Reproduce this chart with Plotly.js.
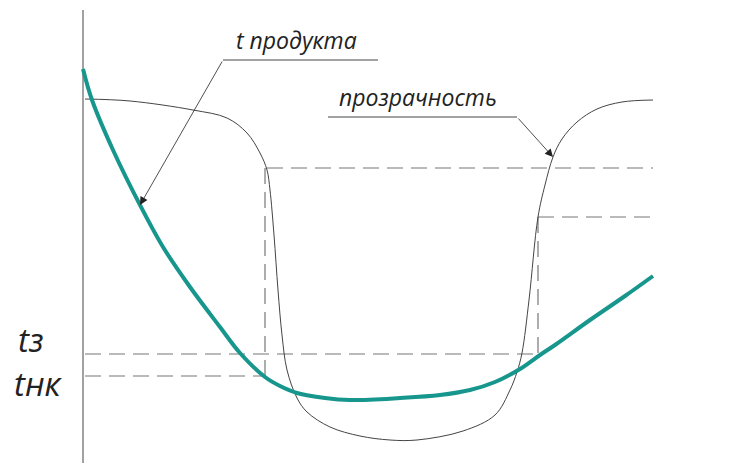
<!DOCTYPE html>
<html>
<head>
<meta charset="utf-8">
<script src="https://cdn.plot.ly/plotly-3.0.1.min.js"></script>
<style>
  html, body { margin: 0; padding: 0; background: #fff; }
  #chart { width: 755px; height: 463px; }
</style>
</head>
<body>
<div id="chart"></div>
<script>
// drawing units: x to the right, y downward (schematic, no scale)
var productX = [83, 92, 113, 140, 163, 190, 220, 240, 265, 280, 297, 325, 350, 400, 440, 470, 495, 520, 540, 555, 590, 625, 653];
var productY = [69, 100, 150, 205, 247, 287, 327, 353, 377, 386, 393, 398, 400, 398, 395, 390, 382, 369, 355, 345, 320, 296, 276];

var clearX = [85, 130, 193, 227, 247, 260, 267, 270, 274, 278, 282, 287, 297, 307, 330, 360, 390, 417, 463, 495, 510, 517, 522, 529, 538, 545, 553, 562, 577, 597, 622, 653];
var clearY = [99, 101, 110, 118, 133, 153, 170, 190, 235, 290, 335, 370, 398, 412, 427, 436, 440, 440, 431, 415, 390, 372, 353, 300, 217, 185, 157, 139, 122, 109, 102, 100];

var dashX = [85, 538, null, 85, 265, null, 265, 265, null, 267, 653, null, 538, 538, null, 538, 653];
var dashY = [354, 354, null, 376, 376, null, 168, 376, null, 168, 168, null, 217, 354, null, 217, 217];

var axisX = [83, 83];
var axisY = [10, 463];

var leaderX = [223, 378, null, 328, 517];
var leaderY = [60, 60, null, 117, 117];

var labels = ['t продукта', 'прозрачность', 'tз', 'tнк'];
var labelX = [296, 418, 30, 38];
var labelY = [40, 97, 339, 383];
var labelSize = [23, 23, 33, 33];

var arrowTail = [[223, 60], [517, 117]];
var arrowHead = [[140, 205], [553, 157]];

var traces = [
  { x: axisX, y: axisY, mode: 'lines', line: { color: '#444', width: 1 }, hoverinfo: 'skip' },
  { x: dashX, y: dashY, mode: 'lines', line: { color: '#777', width: 1.2, dash: '16px,8px' }, hoverinfo: 'skip' },
  { x: clearX, y: clearY, mode: 'lines', line: { color: '#444', width: 1, shape: 'spline', smoothing: 1 }, hoverinfo: 'skip' },
  { x: productX, y: productY, mode: 'lines', line: { color: '#16968c', width: 4, shape: 'spline', smoothing: 1 }, hoverinfo: 'skip' },
  { x: leaderX, y: leaderY, mode: 'lines', line: { color: '#444', width: 1 }, hoverinfo: 'skip' }
];

var annotations = [];
for (var i = 0; i < labels.length; i++) {
  annotations.push({
    x: labelX[i], y: labelY[i], xref: 'x', yref: 'y',
    text: '<i>' + labels[i] + '</i>', showarrow: false,
    font: { family: 'Open Sans', size: labelSize[i], color: '#222' }
  });
}
for (var j = 0; j < arrowHead.length; j++) {
  annotations.push({
    x: arrowHead[j][0], y: arrowHead[j][1], xref: 'x', yref: 'y',
    ax: arrowTail[j][0], ay: arrowTail[j][1], axref: 'x', ayref: 'y',
    text: '', showarrow: true, arrowhead: 2, arrowsize: 2, arrowwidth: 0.8,
    arrowcolor: '#222', standoff: 0
  });
}

var layout = {
  width: 755,
  height: 463,
  margin: { l: 0, r: 0, t: 0, b: 0 },
  showlegend: false,
  paper_bgcolor: '#fff',
  plot_bgcolor: '#fff',
  xaxis: { range: [0, 755], visible: false, fixedrange: true },
  yaxis: { range: [463, 0], visible: false, fixedrange: true },
  annotations: annotations
};

Plotly.newPlot('chart', traces, layout, { displayModeBar: false, staticPlot: true });
</script>
</body>
</html>
